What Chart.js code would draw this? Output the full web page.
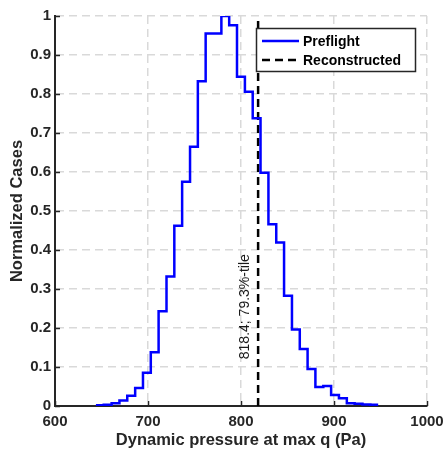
<!DOCTYPE html>
<html>
<head>
<meta charset="utf-8">
<script src="https://cdn.jsdelivr.net/npm/chart.js@4.4.1/dist/chart.umd.min.js"></script>
<style>
  html, body { margin: 0; padding: 0; background: #ffffff; }
  #wrap { width: 446px; height: 456px; }
</style>
</head>
<body>
<div id="wrap"><canvas id="c" width="446" height="456"></canvas></div>
<script>
// ---- data ----
const binEdges = [644.0, 652.4, 660.9, 669.3, 677.7, 686.2, 694.6, 703.0, 711.4, 719.9,
                  728.3, 736.7, 745.2, 753.6, 762.0, 770.5, 778.9, 787.3, 795.7, 804.2,
                  812.6, 821.0, 829.5, 837.9, 846.3, 854.8, 863.2, 871.6, 880.0, 888.5,
                  896.9, 905.3, 913.8, 922.2, 930.6, 939.1, 947.5];
const preflight = [0.002, 0.003, 0.007, 0.014, 0.026, 0.046, 0.085, 0.138, 0.243, 0.332,
                   0.462, 0.575, 0.665, 0.833, 0.955, 0.955, 1.000, 0.976, 0.844, 0.806,
                   0.738, 0.598, 0.466, 0.419, 0.283, 0.196, 0.146, 0.095, 0.049, 0.051,
                   0.028, 0.020, 0.007, 0.006, 0.004, 0.003];
const reconstructedValue = 818.4;
const reconstructedPercentile = 79.3;
const reconstructedSpan = [0, 1];
const xTicks = [600, 700, 800, 900, 1000];
const xTickLabels = ['600', '700', '800', '900', '1000'];
const yTicks = [0, 0.1, 0.2, 0.3, 0.4, 0.5, 0.6, 0.7, 0.8, 0.9, 1];
const yTickLabels = ['0', '0.1', '0.2', '0.3', '0.4', '0.5', '0.6', '0.7', '0.8', '0.9', '1'];
const seriesNames = ['Preflight', 'Reconstructed'];
const xTitle = 'Dynamic pressure at max q (Pa)';
const yTitle = 'Normalized Cases';
const annotationText = reconstructedValue + '; ' + reconstructedPercentile + '%-tile';

// step histogram points (value held until the next edge)
const preflightPts = binEdges.map((e, i) => ({ x: e, y: preflight[Math.min(i, preflight.length - 1)] }));
const reconPts = reconstructedSpan.map(v => ({ x: reconstructedValue, y: v }));

const FONT = "'Liberation Sans', Arial, Helvetica, sans-serif";
const AXIS = '#262626';

const extras = {
  id: 'extras',
  afterDraw(chart) {
    const { ctx, chartArea: a, scales: { x, y } } = chart;
    ctx.save();
    // inward ticks
    ctx.strokeStyle = AXIS; ctx.lineWidth = 1.5; ctx.setLineDash([]);
    xTicks.forEach(v => {
      const px = Math.round(x.getPixelForValue(v)) + 0.5;
      ctx.beginPath(); ctx.moveTo(px, a.bottom); ctx.lineTo(px, a.bottom - 5); ctx.stroke();
    });
    yTicks.forEach(v => {
      const py = Math.round(y.getPixelForValue(v)) + 0.5;
      ctx.beginPath(); ctx.moveTo(a.left, py); ctx.lineTo(a.left + 5, py); ctx.stroke();
    });
    // annotation text
    const tx = x.getPixelForValue(reconstructedValue) - 9;
    const ty = y.getPixelForValue(0.12);
    ctx.translate(tx, ty); ctx.rotate(-Math.PI / 2);
    ctx.font = '14px ' + FONT; ctx.fillStyle = '#1a1a1a';
    ctx.textAlign = 'left'; ctx.textBaseline = 'alphabetic';
    ctx.fillText(annotationText, 0, 0);
    ctx.setTransform(1, 0, 0, 1, 0, 0);
    // legend
    const lw = 160, lh = 44;
    const lx = a.right - 11 - lw, ly = a.top + 12;
    ctx.fillStyle = '#ffffff'; ctx.fillRect(lx, ly, lw, lh);
    ctx.strokeStyle = AXIS; ctx.lineWidth = 1.5; ctx.strokeRect(lx + 0.5, ly + 0.5, lw - 1, lh - 1);
    const ds = chart.data.datasets;
    ctx.font = 'bold 14px ' + FONT; ctx.textBaseline = 'middle'; ctx.textAlign = 'left';
    ds.forEach((d, i) => {
      const cy = ly + 13 + i * 19;
      ctx.strokeStyle = d.borderColor; ctx.lineWidth = 2.5;
      ctx.setLineDash(d.borderDash || []);
      ctx.beginPath(); ctx.moveTo(lx + 6, cy); ctx.lineTo(lx + 43, cy); ctx.stroke();
      ctx.setLineDash([]);
      ctx.fillStyle = '#000000';
      ctx.fillText(d.label, lx + 47, cy + 1);
    });
    ctx.restore();
  }
};

new Chart(document.getElementById('c'), {
  type: 'line',
  data: {
    datasets: [
      { label: seriesNames[0], data: preflightPts, borderColor: '#0000ff', borderWidth: 2.5,
        stepped: 'before', pointRadius: 0, fill: false },
      { label: seriesNames[1], data: reconPts, borderColor: '#000000', borderWidth: 2.5,
        borderDash: [8, 5], pointRadius: 0, fill: false }
    ]
  },
  options: {
    responsive: false,
    animation: false,
    devicePixelRatio: 1,
    layout: { padding: { top: 16, right: 19, left: 0, bottom: 0 } },
    plugins: { legend: { display: false }, tooltip: { enabled: false } },
    scales: {
      x: {
        type: 'linear', min: 600, max: 1000,
        afterBuildTicks: s => { s.ticks = xTicks.map(v => ({ value: v })); },
        afterFit: s => { s.height = 50; s.paddingLeft = 0; s.paddingRight = 0; },
        ticks: { color: AXIS, font: { family: FONT, size: 15, weight: 'bold' }, padding: 7, maxRotation: 0,
                 callback: (v, i) => xTickLabels[i] },
        grid: { color: '#d9d9d9', lineWidth: 1.5, drawTicks: false, tickLength: 0 },
        border: { display: true, color: AXIS, width: 2, dash: [8, 5] },
        title: { display: true, text: xTitle, color: AXIS,
                 font: { family: FONT, size: 16.5, weight: 'bold' }, padding: { top: 0, bottom: 6 } }
      },
      y: {
        type: 'linear', min: 0, max: 1,
        afterBuildTicks: s => { s.ticks = yTicks.map(v => ({ value: v })); },
        afterFit: s => { s.width = 55; s.paddingTop = 0; s.paddingBottom = 0; },
        ticks: { color: AXIS, font: { family: FONT, size: 15, weight: 'bold' }, padding: 4,
                 callback: (v, i) => yTickLabels[i] },
        grid: { color: '#d9d9d9', lineWidth: 1.5, drawTicks: false, tickLength: 0 },
        border: { display: true, color: AXIS, width: 2, dash: [8, 5] },
        title: { display: true, text: yTitle, color: AXIS,
                 font: { family: FONT, size: 16.5, weight: 'bold' }, padding: { top: 8, bottom: 0 } }
      }
    }
  },
  plugins: [extras]
});
</script>
</body>
</html>
